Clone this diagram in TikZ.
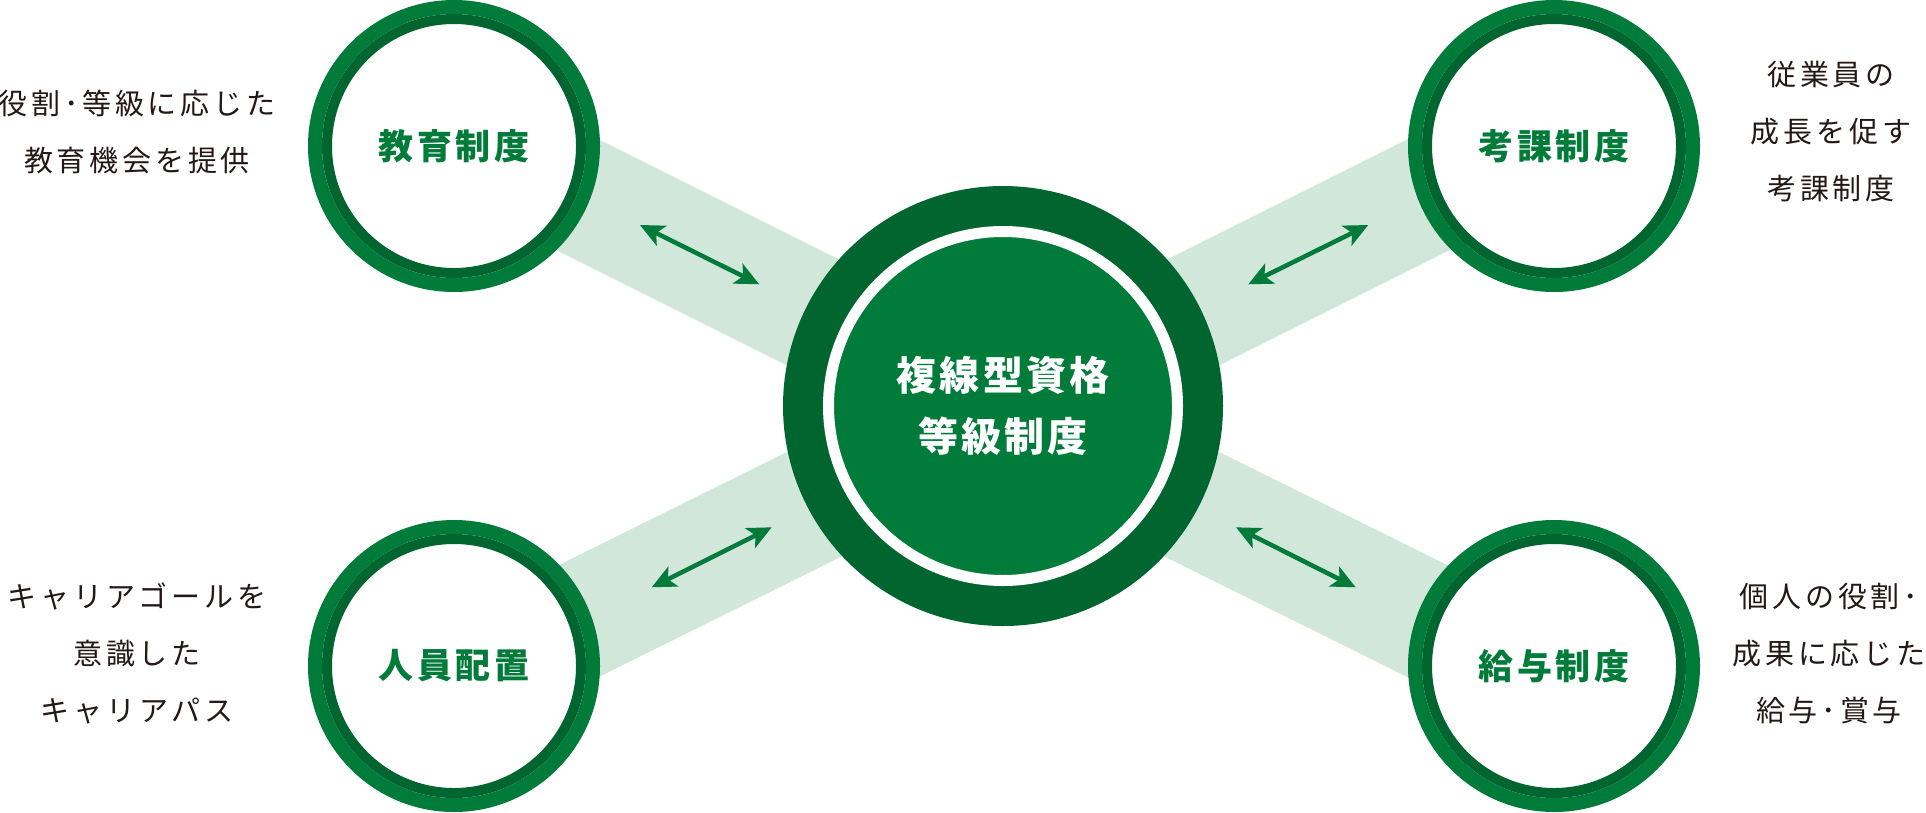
\documentclass[tikz,border=0pt]{standalone}
\usepackage{fontspec}
\usetikzlibrary{arrows.meta}
\newfontfamily\jpside[LetterSpace=13]{Noto Sans CJK JP}
\newfontfamily\jplab[LetterSpace=11]{Noto Sans CJK JP}
\newfontfamily\jpmid[LetterSpace=8]{Noto Sans CJK JP}
\definecolor{gmain}{RGB}{0,123,58}
\definecolor{gdark}{RGB}{0,101,46}
\definecolor{gband}{RGB}{209,231,218}
\definecolor{ink}{RGB}{35,24,21}
\begin{document}
\begin{tikzpicture}[x=1pt,y=-1pt,
  band/.style={draw=gband, line width=118pt},
  dblarrow/.style={draw=gmain, line width=4.5pt,
    {Stealth[length=24pt,width=22pt,inset=6pt]}-{Stealth[length=24pt,width=22pt,inset=6pt]}},
  satnode/.style={circle, fill=white, draw=gdark, line width=10pt,
    minimum size=254pt, inner sep=0pt, text=gmain,
    font=\jplab\bfseries\fontsize{35}{40}\selectfont},
  satring/.style={draw=gmain, line width=14pt},
  hubnode/.style={circle, fill=gmain, draw=white, line width=11pt,
    minimum size=349pt, inner sep=0pt, text=white, align=center,
    font=\jpmid\bfseries\fontsize{40}{61}\selectfont},
  side/.style={inner sep=0pt, align=center, text=ink,
    font=\jpside\fontsize{29}{57}\selectfont}]
\useasboundingbox (0,0) rectangle (1926,812);

% bands
\coordinate (ctop) at (1003,407.5);
\coordinate (cbot) at (1003,410.5);
\coordinate (ptl) at (459,135.5);
\coordinate (ptr) at (1547,135.5);
\coordinate (pbl) at (460,680);
\coordinate (pbr) at (1546,680);
\draw[band] (ctop) -- (ptl);
\draw[band] (ctop) -- (ptr);
\draw[band] (cbot) -- (pbl);
\draw[band] (cbot) -- (pbr);

% hub
\fill[gdark] (1003,406) circle[radius=220pt];
\node[hubnode] (hub) at (1003,406) {複線型資格\\等級制度};

% satellites
\node[satnode] (edu) at (454,146) {教育制度};
\node[satnode] (eval) at (1554,146) {考課制度};
\node[satnode] (staff) at (454,666) {人員配置};
\node[satnode] (pay) at (1554,666) {給与制度};
\foreach \s in {edu,eval,staff,pay}
  \draw[satring] (\s.center) circle[radius=139pt];

% arrows
\coordinate (a1s) at (640,225);     \coordinate (a1e) at (759.3,284.3);
\coordinate (a2s) at (1248.3,284.3); \coordinate (a2e) at (1368.3,225);
\coordinate (a3s) at (651.7,587.3); \coordinate (a3e) at (771.7,527.3);
\coordinate (a4s) at (1236,527.3);  \coordinate (a4e) at (1355.7,587.3);
\draw[dblarrow] (a1s) -- (a1e);
\draw[dblarrow] (a2s) -- (a2e);
\draw[dblarrow] (a3s) -- (a3e);
\draw[dblarrow] (a4s) -- (a4e);

% side texts
\node[side] (tedu) at (137,132) {役割･等級に応じた\\教育機会を提供};
\node[side] (teval) at (1831,132) {従業員の\\成長を促す\\考課制度};
\node[side] (tstaff) at (137,653) {キャリアゴールを\\意識した\\キャリアパス};
\node[side] (tpay) at (1829,654) {個人の役割･\\成果に応じた\\給与･賞与};
\end{tikzpicture}
\end{document}
